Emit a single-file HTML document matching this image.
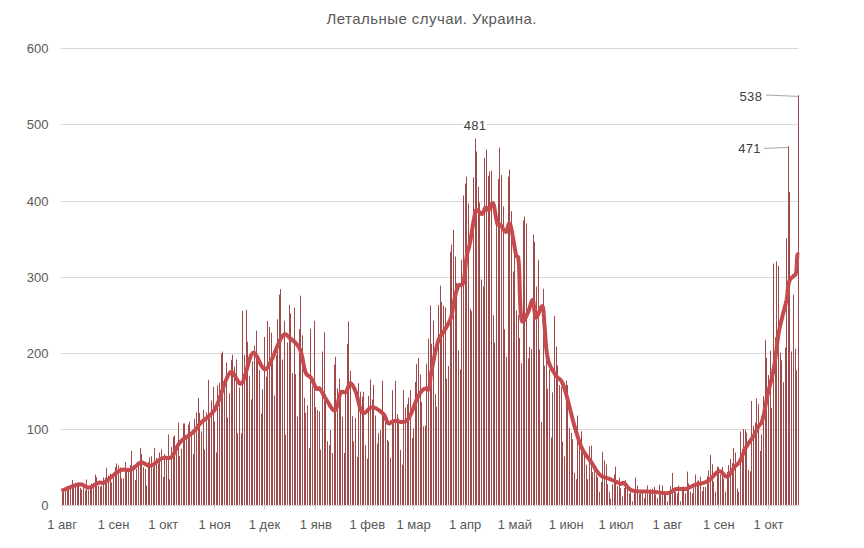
<!DOCTYPE html>
<html><head><meta charset="utf-8"><style>
html,body{margin:0;padding:0;background:#fff;}
body{width:864px;height:548px;overflow:hidden;}
svg{display:block;font-family:"Liberation Sans",sans-serif;}
</style></head><body>
<svg width="864" height="548" viewBox="0 0 864 548">
<rect width="864" height="548" fill="#fff"/>
<text x="326.5" y="23.8" font-size="15" letter-spacing="0.45" fill="#595959">Летальные случаи. Украина.</text>
<g stroke="#d9d9d9" stroke-width="1"><line x1="60.5" x2="798.6" y1="505.5" y2="505.5"/><line x1="60.5" x2="798.6" y1="429.5" y2="429.5"/><line x1="60.5" x2="798.6" y1="353.5" y2="353.5"/><line x1="60.5" x2="798.6" y1="277.5" y2="277.5"/><line x1="60.5" x2="798.6" y1="201.5" y2="201.5"/><line x1="60.5" x2="798.6" y1="124.5" y2="124.5"/><line x1="60.5" x2="798.6" y1="48.5" y2="48.5"/></g>
<g stroke="#d9d9d9" stroke-width="1"><line x1="62.5" x2="62.5" y1="506" y2="510"/><line x1="113.5" x2="113.5" y1="506" y2="510"/><line x1="163.5" x2="163.5" y1="506" y2="510"/><line x1="214.5" x2="214.5" y1="506" y2="510"/><line x1="264.5" x2="264.5" y1="506" y2="510"/><line x1="315.5" x2="315.5" y1="506" y2="510"/><line x1="367.5" x2="367.5" y1="506" y2="510"/><line x1="413.5" x2="413.5" y1="506" y2="510"/><line x1="465.5" x2="465.5" y1="506" y2="510"/><line x1="514.5" x2="514.5" y1="506" y2="510"/><line x1="566.5" x2="566.5" y1="506" y2="510"/><line x1="615.5" x2="615.5" y1="506" y2="510"/><line x1="667.5" x2="667.5" y1="506" y2="510"/><line x1="718.5" x2="718.5" y1="506" y2="510"/><line x1="768.5" x2="768.5" y1="506" y2="510"/></g>
<g font-size="13" fill="#595959" text-anchor="end"><text x="48.5" y="510.00">0</text><text x="48.5" y="434.00">100</text><text x="48.5" y="358.00">200</text><text x="48.5" y="282.00">300</text><text x="48.5" y="206.00">400</text><text x="48.5" y="129.00">500</text><text x="48.5" y="53.00">600</text></g>
<g font-size="13" fill="#595959" text-anchor="middle"><text x="62.10" y="528.8">1 авг</text><text x="113.51" y="528.8">1 сен</text><text x="163.26" y="528.8">1 окт</text><text x="214.66" y="528.8">1 ноя</text><text x="264.41" y="528.8">1 дек</text><text x="315.82" y="528.8">1 янв</text><text x="367.23" y="528.8">1 фев</text><text x="413.66" y="528.8">1 мар</text><text x="465.07" y="528.8">1 апр</text><text x="514.82" y="528.8">1 май</text><text x="566.22" y="528.8">1 июн</text><text x="615.97" y="528.8">1 июл</text><text x="667.38" y="528.8">1 авг</text><text x="718.79" y="528.8">1 сен</text><text x="768.54" y="528.8">1 окт</text></g>
<g fill="#a04a4c"><rect x="62" y="490.18" width="1" height="14.82"/><rect x="63" y="488.06" width="1" height="16.94"/><rect x="65" y="488.06" width="1" height="16.94"/><rect x="67" y="485.96" width="1" height="19.04"/><rect x="68" y="486.98" width="1" height="18.02"/><rect x="70" y="485.59" width="1" height="19.41"/><rect x="72" y="480.02" width="1" height="24.98"/><rect x="73" y="485.72" width="1" height="19.28"/><rect x="75" y="482.63" width="1" height="22.37"/><rect x="77" y="484.81" width="1" height="20.19"/><rect x="78" y="485.67" width="1" height="19.33"/><rect x="80" y="487.80" width="1" height="17.20"/><rect x="81" y="489.63" width="1" height="15.37"/><rect x="83" y="484.47" width="1" height="20.53"/><rect x="85" y="490.47" width="1" height="14.53"/><rect x="86" y="479.48" width="1" height="25.52"/><rect x="88" y="490.28" width="1" height="14.72"/><rect x="90" y="486.07" width="1" height="18.93"/><rect x="91" y="483.41" width="1" height="21.59"/><rect x="93" y="482.85" width="1" height="22.15"/><rect x="95" y="474.53" width="1" height="30.47"/><rect x="96" y="477.12" width="1" height="27.88"/><rect x="98" y="485.71" width="1" height="19.29"/><rect x="100" y="486.55" width="1" height="18.45"/><rect x="101" y="485.50" width="1" height="19.50"/><rect x="103" y="477.48" width="1" height="27.52"/><rect x="105" y="477.65" width="1" height="27.35"/><rect x="106" y="467.68" width="1" height="37.32"/><rect x="108" y="475.56" width="1" height="29.44"/><rect x="110" y="473.77" width="1" height="31.23"/><rect x="111" y="482.38" width="1" height="22.62"/><rect x="113" y="473.84" width="1" height="31.16"/><rect x="115" y="466.92" width="1" height="38.09"/><rect x="116" y="463.49" width="1" height="41.51"/><rect x="118" y="465.30" width="1" height="39.70"/><rect x="120" y="467.45" width="1" height="37.55"/><rect x="121" y="478.38" width="1" height="26.62"/><rect x="123" y="478.42" width="1" height="26.58"/><rect x="125" y="461.96" width="1" height="43.04"/><rect x="126" y="470.43" width="1" height="34.57"/><rect x="128" y="472.17" width="1" height="32.83"/><rect x="130" y="465.09" width="1" height="39.91"/><rect x="131" y="451.00" width="1" height="54.00"/><rect x="133" y="465.09" width="1" height="39.91"/><rect x="135" y="480.02" width="1" height="24.98"/><rect x="136" y="469.05" width="1" height="35.95"/><rect x="138" y="461.92" width="1" height="43.08"/><rect x="140" y="447.87" width="1" height="57.13"/><rect x="141" y="454.12" width="1" height="50.88"/><rect x="143" y="467.24" width="1" height="37.76"/><rect x="145" y="469.05" width="1" height="35.95"/><rect x="146" y="485.50" width="1" height="19.50"/><rect x="148" y="462.15" width="1" height="42.85"/><rect x="149" y="457.24" width="1" height="47.76"/><rect x="151" y="456.20" width="1" height="48.80"/><rect x="153" y="467.45" width="1" height="37.55"/><rect x="154" y="447.87" width="1" height="57.13"/><rect x="156" y="457.95" width="1" height="47.05"/><rect x="158" y="463.56" width="1" height="41.44"/><rect x="159" y="452.52" width="1" height="52.48"/><rect x="161" y="449.36" width="1" height="55.64"/><rect x="163" y="476.89" width="1" height="28.11"/><rect x="164" y="454.12" width="1" height="50.88"/><rect x="166" y="455.77" width="1" height="49.23"/><rect x="168" y="434.47" width="1" height="70.53"/><rect x="169" y="479.25" width="1" height="25.75"/><rect x="171" y="447.16" width="1" height="57.84"/><rect x="173" y="436.83" width="1" height="68.17"/><rect x="174" y="435.30" width="1" height="69.70"/><rect x="176" y="447.90" width="1" height="57.10"/><rect x="178" y="422.74" width="1" height="82.26"/><rect x="179" y="456.13" width="1" height="48.87"/><rect x="181" y="448.63" width="1" height="56.37"/><rect x="183" y="423.50" width="1" height="81.50"/><rect x="184" y="423.50" width="1" height="81.50"/><rect x="186" y="437.58" width="1" height="67.42"/><rect x="188" y="424.64" width="1" height="80.36"/><rect x="189" y="421.52" width="1" height="83.48"/><rect x="191" y="433.61" width="1" height="71.39"/><rect x="193" y="454.12" width="1" height="50.88"/><rect x="194" y="418.78" width="1" height="86.22"/><rect x="196" y="412.21" width="1" height="92.79"/><rect x="198" y="397.83" width="1" height="107.17"/><rect x="199" y="412.83" width="1" height="92.17"/><rect x="201" y="431.34" width="1" height="73.66"/><rect x="203" y="409.94" width="1" height="95.06"/><rect x="204" y="449.40" width="1" height="55.60"/><rect x="206" y="412.41" width="1" height="92.59"/><rect x="208" y="379.78" width="1" height="125.22"/><rect x="209" y="418.24" width="1" height="86.76"/><rect x="211" y="400.47" width="1" height="104.53"/><rect x="213" y="386.94" width="1" height="118.06"/><rect x="214" y="421.44" width="1" height="83.56"/><rect x="216" y="452.44" width="1" height="52.56"/><rect x="217" y="385.41" width="1" height="119.59"/><rect x="219" y="382.83" width="1" height="122.17"/><rect x="221" y="353.42" width="1" height="151.58"/><rect x="222" y="351.59" width="1" height="153.41"/><rect x="224" y="381.92" width="1" height="123.08"/><rect x="226" y="362.56" width="1" height="142.44"/><rect x="227" y="417.48" width="1" height="87.52"/><rect x="229" y="393.26" width="1" height="111.74"/><rect x="231" y="359.74" width="1" height="145.26"/><rect x="232" y="354.72" width="1" height="150.28"/><rect x="234" y="366.75" width="1" height="138.25"/><rect x="236" y="359.44" width="1" height="145.56"/><rect x="237" y="433.17" width="1" height="71.83"/><rect x="239" y="387.56" width="1" height="117.44"/><rect x="241" y="433.17" width="1" height="71.83"/><rect x="242" y="310.77" width="1" height="194.23"/><rect x="244" y="355.08" width="1" height="149.92"/><rect x="246" y="309.85" width="1" height="195.15"/><rect x="247" y="341.69" width="1" height="163.31"/><rect x="249" y="375.86" width="1" height="129.14"/><rect x="251" y="399.43" width="1" height="105.57"/><rect x="252" y="361.34" width="1" height="143.66"/><rect x="254" y="345.71" width="1" height="159.29"/><rect x="256" y="330.72" width="1" height="174.28"/><rect x="257" y="356.79" width="1" height="148.21"/><rect x="259" y="369.93" width="1" height="135.07"/><rect x="261" y="413.60" width="1" height="91.40"/><rect x="262" y="389.27" width="1" height="115.73"/><rect x="264" y="336.97" width="1" height="168.03"/><rect x="266" y="376.65" width="1" height="128.35"/><rect x="267" y="320.82" width="1" height="184.18"/><rect x="269" y="326.76" width="1" height="178.24"/><rect x="271" y="332.78" width="1" height="172.22"/><rect x="272" y="361.05" width="1" height="143.95"/><rect x="274" y="395.54" width="1" height="109.46"/><rect x="276" y="355.02" width="1" height="149.98"/><rect x="277" y="319.21" width="1" height="185.79"/><rect x="279" y="294.62" width="1" height="210.38"/><rect x="280" y="289.13" width="1" height="215.87"/><rect x="282" y="359.52" width="1" height="145.48"/><rect x="284" y="320.82" width="1" height="184.18"/><rect x="285" y="434.77" width="1" height="70.23"/><rect x="287" y="342.51" width="1" height="162.49"/><rect x="289" y="304.83" width="1" height="200.17"/><rect x="290" y="313.43" width="1" height="191.57"/><rect x="292" y="373.11" width="1" height="131.89"/><rect x="294" y="307.64" width="1" height="197.36"/><rect x="295" y="374.16" width="1" height="130.84"/><rect x="297" y="416.64" width="1" height="88.36"/><rect x="299" y="329.12" width="1" height="175.88"/><rect x="300" y="295.68" width="1" height="209.32"/><rect x="302" y="335.45" width="1" height="169.55"/><rect x="304" y="397.74" width="1" height="107.26"/><rect x="305" y="412.83" width="1" height="92.17"/><rect x="307" y="405.39" width="1" height="99.61"/><rect x="309" y="448.10" width="1" height="56.90"/><rect x="310" y="328.67" width="1" height="176.33"/><rect x="312" y="386.30" width="1" height="118.70"/><rect x="314" y="320.82" width="1" height="184.18"/><rect x="315" y="407.11" width="1" height="97.89"/><rect x="317" y="409.98" width="1" height="95.02"/><rect x="319" y="411.31" width="1" height="93.69"/><rect x="320" y="449.70" width="1" height="55.30"/><rect x="322" y="351.59" width="1" height="153.41"/><rect x="324" y="332.25" width="1" height="172.75"/><rect x="325" y="394.02" width="1" height="110.98"/><rect x="327" y="441.25" width="1" height="63.75"/><rect x="329" y="445.13" width="1" height="59.87"/><rect x="330" y="430.20" width="1" height="74.80"/><rect x="332" y="452.98" width="1" height="52.02"/><rect x="334" y="364.62" width="1" height="140.38"/><rect x="335" y="356.77" width="1" height="148.23"/><rect x="337" y="388.26" width="1" height="116.74"/><rect x="339" y="378.79" width="1" height="126.21"/><rect x="340" y="390.08" width="1" height="114.92"/><rect x="342" y="416.87" width="1" height="88.13"/><rect x="344" y="452.98" width="1" height="52.02"/><rect x="345" y="390.99" width="1" height="114.01"/><rect x="347" y="343.75" width="1" height="161.25"/><rect x="348" y="321.43" width="1" height="183.57"/><rect x="350" y="370.86" width="1" height="134.14"/><rect x="352" y="416.11" width="1" height="88.89"/><rect x="353" y="441.25" width="1" height="63.75"/><rect x="355" y="417.82" width="1" height="87.18"/><rect x="357" y="456.94" width="1" height="48.06"/><rect x="358" y="383.19" width="1" height="121.81"/><rect x="360" y="391.74" width="1" height="113.26"/><rect x="362" y="396.66" width="1" height="108.34"/><rect x="363" y="391.74" width="1" height="113.26"/><rect x="365" y="445.13" width="1" height="59.87"/><rect x="367" y="458.54" width="1" height="46.46"/><rect x="368" y="395.90" width="1" height="109.10"/><rect x="370" y="379.55" width="1" height="125.45"/><rect x="372" y="399.58" width="1" height="105.42"/><rect x="373" y="385.03" width="1" height="119.97"/><rect x="375" y="415.54" width="1" height="89.46"/><rect x="377" y="443.61" width="1" height="61.39"/><rect x="378" y="433.09" width="1" height="71.91"/><rect x="380" y="430.02" width="1" height="74.98"/><rect x="382" y="380.84" width="1" height="124.16"/><rect x="383" y="415.98" width="1" height="89.02"/><rect x="385" y="413.81" width="1" height="91.19"/><rect x="387" y="439.79" width="1" height="65.21"/><rect x="388" y="441.19" width="1" height="63.81"/><rect x="390" y="457.70" width="1" height="47.30"/><rect x="392" y="390.21" width="1" height="114.79"/><rect x="393" y="419.60" width="1" height="85.40"/><rect x="395" y="380.84" width="1" height="124.16"/><rect x="397" y="414.51" width="1" height="90.49"/><rect x="398" y="418.31" width="1" height="86.69"/><rect x="400" y="449.85" width="1" height="55.15"/><rect x="402" y="464.78" width="1" height="40.22"/><rect x="403" y="390.21" width="1" height="114.79"/><rect x="405" y="407.43" width="1" height="97.57"/><rect x="407" y="404.30" width="1" height="100.70"/><rect x="408" y="397.55" width="1" height="107.45"/><rect x="410" y="390.21" width="1" height="114.79"/><rect x="412" y="438.05" width="1" height="66.95"/><rect x="413" y="428.52" width="1" height="76.48"/><rect x="415" y="381.91" width="1" height="123.09"/><rect x="416" y="363.86" width="1" height="141.14"/><rect x="418" y="357.92" width="1" height="147.08"/><rect x="420" y="374.52" width="1" height="130.48"/><rect x="421" y="402.08" width="1" height="102.92"/><rect x="423" y="426.32" width="1" height="78.68"/><rect x="425" y="425.55" width="1" height="79.45"/><rect x="426" y="363.76" width="1" height="141.24"/><rect x="428" y="338.72" width="1" height="166.28"/><rect x="430" y="305.43" width="1" height="199.57"/><rect x="431" y="343.76" width="1" height="161.24"/><rect x="433" y="320.67" width="1" height="184.33"/><rect x="435" y="394.10" width="1" height="110.90"/><rect x="436" y="406.74" width="1" height="98.26"/><rect x="438" y="304.98" width="1" height="200.02"/><rect x="440" y="285.63" width="1" height="219.37"/><rect x="441" y="301.85" width="1" height="203.15"/><rect x="443" y="305.74" width="1" height="199.26"/><rect x="445" y="307.34" width="1" height="197.66"/><rect x="446" y="378.71" width="1" height="126.29"/><rect x="448" y="365.92" width="1" height="139.08"/><rect x="450" y="251.81" width="1" height="253.19"/><rect x="451" y="244.80" width="1" height="260.20"/><rect x="453" y="229.87" width="1" height="275.13"/><rect x="455" y="256.53" width="1" height="248.47"/><rect x="456" y="282.90" width="1" height="222.10"/><rect x="458" y="350.45" width="1" height="154.55"/><rect x="460" y="369.34" width="1" height="135.66"/><rect x="461" y="259.62" width="1" height="245.38"/><rect x="463" y="195.45" width="1" height="309.55"/><rect x="465" y="183.64" width="1" height="321.36"/><rect x="466" y="176.55" width="1" height="328.45"/><rect x="468" y="203.29" width="1" height="301.71"/><rect x="470" y="308.86" width="1" height="196.14"/><rect x="471" y="311.22" width="1" height="193.78"/><rect x="473" y="177.39" width="1" height="327.61"/><rect x="475" y="138.62" width="1" height="366.38"/><rect x="476" y="151.50" width="1" height="353.50"/><rect x="478" y="186.76" width="1" height="318.24"/><rect x="479" y="202.45" width="1" height="302.55"/><rect x="481" y="279.50" width="1" height="225.50"/><rect x="483" y="286.39" width="1" height="218.61"/><rect x="484" y="157.74" width="1" height="347.26"/><rect x="486" y="149.59" width="1" height="355.41"/><rect x="488" y="175.79" width="1" height="329.21"/><rect x="489" y="171.53" width="1" height="333.47"/><rect x="491" y="170.61" width="1" height="334.39"/><rect x="493" y="315.18" width="1" height="189.82"/><rect x="494" y="342.61" width="1" height="162.39"/><rect x="496" y="222.25" width="1" height="282.75"/><rect x="498" y="178.99" width="1" height="326.01"/><rect x="499" y="147.53" width="1" height="357.47"/><rect x="501" y="175.03" width="1" height="329.97"/><rect x="503" y="206.41" width="1" height="298.59"/><rect x="504" y="329.28" width="1" height="175.72"/><rect x="506" y="356.77" width="1" height="148.23"/><rect x="508" y="176.55" width="1" height="328.45"/><rect x="509" y="169.55" width="1" height="335.45"/><rect x="511" y="211.14" width="1" height="293.86"/><rect x="513" y="271.46" width="1" height="233.54"/><rect x="514" y="237.72" width="1" height="267.28"/><rect x="516" y="310.68" width="1" height="194.32"/><rect x="518" y="315.28" width="1" height="189.72"/><rect x="519" y="337.99" width="1" height="167.01"/><rect x="521" y="363.21" width="1" height="141.79"/><rect x="523" y="220.43" width="1" height="284.57"/><rect x="524" y="216.54" width="1" height="288.46"/><rect x="526" y="223.55" width="1" height="281.45"/><rect x="528" y="358.30" width="1" height="146.70"/><rect x="529" y="347.00" width="1" height="158.00"/><rect x="531" y="349.00" width="1" height="156.00"/><rect x="533" y="234.60" width="1" height="270.40"/><rect x="534" y="241.68" width="1" height="263.32"/><rect x="536" y="286.39" width="1" height="218.61"/><rect x="538" y="259.73" width="1" height="245.27"/><rect x="539" y="349.38" width="1" height="155.62"/><rect x="541" y="421.97" width="1" height="83.03"/><rect x="543" y="288.75" width="1" height="216.25"/><rect x="544" y="365.58" width="1" height="139.42"/><rect x="546" y="359.90" width="1" height="145.10"/><rect x="547" y="388.73" width="1" height="116.27"/><rect x="549" y="369.34" width="1" height="135.66"/><rect x="551" y="437.59" width="1" height="67.41"/><rect x="552" y="392.32" width="1" height="112.68"/><rect x="554" y="315.95" width="1" height="189.05"/><rect x="556" y="346.57" width="1" height="158.43"/><rect x="557" y="365.38" width="1" height="139.62"/><rect x="559" y="385.03" width="1" height="119.97"/><rect x="561" y="386.56" width="1" height="118.44"/><rect x="562" y="441.55" width="1" height="63.45"/><rect x="564" y="456.40" width="1" height="48.60"/><rect x="566" y="380.61" width="1" height="124.39"/><rect x="567" y="385.03" width="1" height="119.97"/><rect x="569" y="428.14" width="1" height="76.86"/><rect x="571" y="432.87" width="1" height="72.13"/><rect x="572" y="439.19" width="1" height="65.81"/><rect x="574" y="472.93" width="1" height="32.07"/><rect x="576" y="479.18" width="1" height="25.82"/><rect x="577" y="415.65" width="1" height="89.35"/><rect x="579" y="445.44" width="1" height="59.56"/><rect x="581" y="431.34" width="1" height="73.66"/><rect x="582" y="450.92" width="1" height="54.08"/><rect x="584" y="453.28" width="1" height="51.72"/><rect x="586" y="464.72" width="1" height="40.28"/><rect x="587" y="479.18" width="1" height="25.82"/><rect x="589" y="446.20" width="1" height="58.80"/><rect x="591" y="445.44" width="1" height="59.56"/><rect x="592" y="472.22" width="1" height="32.78"/><rect x="594" y="468.21" width="1" height="36.79"/><rect x="596" y="474.46" width="1" height="30.54"/><rect x="597" y="477.16" width="1" height="27.84"/><rect x="599" y="491.75" width="1" height="13.25"/><rect x="601" y="481.87" width="1" height="23.13"/><rect x="602" y="451.68" width="1" height="53.32"/><rect x="604" y="460.36" width="1" height="44.64"/><rect x="606" y="464.33" width="1" height="40.67"/><rect x="607" y="484.10" width="1" height="20.90"/><rect x="609" y="491.75" width="1" height="13.25"/><rect x="610" y="498.83" width="1" height="6.17"/><rect x="612" y="484.19" width="1" height="20.81"/><rect x="614" y="474.46" width="1" height="30.54"/><rect x="615" y="466.61" width="1" height="38.39"/><rect x="617" y="486.12" width="1" height="18.88"/><rect x="619" y="477.58" width="1" height="27.42"/><rect x="620" y="488.27" width="1" height="16.73"/><rect x="622" y="496.47" width="1" height="8.53"/><rect x="624" y="487.98" width="1" height="17.02"/><rect x="625" y="479.94" width="1" height="25.06"/><rect x="627" y="487.02" width="1" height="17.98"/><rect x="629" y="493.35" width="1" height="11.65"/><rect x="630" y="492.16" width="1" height="12.84"/><rect x="632" y="501.19" width="1" height="3.81"/><rect x="634" y="492.65" width="1" height="12.35"/><rect x="635" y="477.58" width="1" height="27.42"/><rect x="637" y="485.50" width="1" height="19.50"/><rect x="639" y="494.16" width="1" height="10.84"/><rect x="640" y="490.22" width="1" height="14.78"/><rect x="642" y="492.28" width="1" height="12.72"/><rect x="644" y="497.99" width="1" height="7.01"/><rect x="645" y="493.52" width="1" height="11.48"/><rect x="647" y="485.50" width="1" height="19.50"/><rect x="649" y="494.00" width="1" height="11.00"/><rect x="650" y="489.39" width="1" height="15.61"/><rect x="652" y="488.62" width="1" height="16.38"/><rect x="654" y="487.02" width="1" height="17.98"/><rect x="655" y="494.51" width="1" height="10.49"/><rect x="657" y="497.99" width="1" height="7.01"/><rect x="659" y="484.66" width="1" height="20.34"/><rect x="660" y="495.10" width="1" height="9.90"/><rect x="662" y="485.50" width="1" height="19.50"/><rect x="664" y="494.44" width="1" height="10.56"/><rect x="665" y="494.87" width="1" height="10.13"/><rect x="667" y="501.19" width="1" height="3.81"/><rect x="669" y="491.48" width="1" height="13.52"/><rect x="670" y="486.26" width="1" height="18.74"/><rect x="672" y="472.93" width="1" height="32.07"/><rect x="674" y="487.60" width="1" height="17.40"/><rect x="675" y="491.75" width="1" height="13.25"/><rect x="677" y="493.35" width="1" height="11.65"/><rect x="678" y="485.47" width="1" height="19.53"/><rect x="680" y="501.19" width="1" height="3.81"/><rect x="682" y="487.02" width="1" height="17.98"/><rect x="683" y="486.34" width="1" height="18.66"/><rect x="685" y="493.35" width="1" height="11.65"/><rect x="687" y="471.64" width="1" height="33.36"/><rect x="688" y="483.39" width="1" height="21.61"/><rect x="690" y="491.75" width="1" height="13.25"/><rect x="692" y="493.35" width="1" height="11.65"/><rect x="693" y="483.46" width="1" height="21.54"/><rect x="695" y="474.46" width="1" height="30.54"/><rect x="697" y="480.78" width="1" height="24.22"/><rect x="698" y="480.38" width="1" height="24.62"/><rect x="700" y="476.82" width="1" height="28.18"/><rect x="702" y="490.98" width="1" height="14.02"/><rect x="703" y="486.88" width="1" height="18.12"/><rect x="705" y="487.02" width="1" height="17.98"/><rect x="707" y="476.35" width="1" height="28.65"/><rect x="708" y="470.57" width="1" height="34.43"/><rect x="710" y="454.88" width="1" height="50.12"/><rect x="712" y="464.25" width="1" height="40.75"/><rect x="713" y="481.40" width="1" height="23.60"/><rect x="715" y="491.75" width="1" height="13.25"/><rect x="717" y="466.61" width="1" height="38.39"/><rect x="718" y="467.22" width="1" height="37.78"/><rect x="720" y="474.46" width="1" height="30.54"/><rect x="722" y="466.91" width="1" height="38.09"/><rect x="723" y="478.42" width="1" height="26.58"/><rect x="725" y="491.75" width="1" height="13.25"/><rect x="727" y="471.89" width="1" height="33.11"/><rect x="728" y="465.09" width="1" height="39.91"/><rect x="730" y="458.76" width="1" height="46.24"/><rect x="732" y="463.23" width="1" height="41.77"/><rect x="733" y="447.80" width="1" height="57.20"/><rect x="735" y="452.52" width="1" height="52.48"/><rect x="737" y="488.62" width="1" height="16.38"/><rect x="738" y="491.75" width="1" height="13.25"/><rect x="740" y="431.34" width="1" height="73.66"/><rect x="742" y="448.91" width="1" height="56.09"/><rect x="743" y="428.98" width="1" height="76.02"/><rect x="745" y="429.74" width="1" height="75.26"/><rect x="746" y="432.47" width="1" height="72.53"/><rect x="748" y="469.81" width="1" height="35.19"/><rect x="750" y="471.33" width="1" height="33.67"/><rect x="751" y="400.95" width="1" height="104.05"/><rect x="753" y="425.78" width="1" height="79.22"/><rect x="755" y="422.58" width="1" height="82.42"/><rect x="756" y="398.59" width="1" height="106.41"/><rect x="758" y="404.07" width="1" height="100.93"/><rect x="760" y="450.92" width="1" height="54.08"/><rect x="761" y="434.47" width="1" height="70.53"/><rect x="763" y="396.23" width="1" height="108.77"/><rect x="765" y="339.71" width="1" height="165.29"/><rect x="766" y="357.84" width="1" height="147.16"/><rect x="768" y="375.05" width="1" height="129.95"/><rect x="770" y="350.76" width="1" height="154.24"/><rect x="771" y="408.00" width="1" height="97.00"/><rect x="773" y="263.54" width="1" height="241.46"/><rect x="775" y="337.24" width="1" height="167.76"/><rect x="776" y="261.26" width="1" height="243.74"/><rect x="778" y="265.83" width="1" height="239.17"/><rect x="780" y="352.66" width="1" height="152.34"/><rect x="781" y="360.28" width="1" height="144.72"/><rect x="783" y="382.14" width="1" height="122.86"/><rect x="785" y="347.56" width="1" height="157.44"/><rect x="786" y="238.40" width="1" height="266.60"/><rect x="788" y="146.24" width="1" height="358.76"/><rect x="789" y="191.94" width="1" height="313.06"/><rect x="791" y="351.52" width="1" height="153.48"/><rect x="793" y="294.77" width="1" height="210.23"/><rect x="795" y="348.85" width="1" height="156.15"/><rect x="796" y="370.33" width="1" height="134.67"/><rect x="798" y="95.21" width="1" height="409.79"/></g>
<polyline points="61.4,490.8 63.4,490.0 66.3,488.8 69.7,487.4 73.2,486.0 76.5,484.9 79.2,484.3 81.3,484.4 83.1,485.0 84.6,485.9 86.0,486.8 87.5,487.4 89.0,487.6 90.7,487.2 92.4,486.4 94.1,485.4 95.7,484.3 97.3,483.4 98.7,482.7 99.9,482.5 100.8,482.6 101.6,482.8 102.6,482.9 103.7,482.7 105.2,482.0 107.2,480.6 109.6,478.6 112.2,476.3 114.9,473.9 117.5,471.9 119.8,470.5 121.9,469.8 123.9,469.6 125.8,469.8 127.6,470.0 129.4,470.1 131.2,469.7 132.9,468.8 134.6,467.4 136.2,465.9 137.7,464.4 139.3,463.2 140.9,462.5 142.5,462.6 144.1,463.3 145.6,464.2 147.2,465.1 148.9,465.8 150.6,465.8 152.4,465.1 154.3,463.9 156.3,462.3 158.3,460.7 160.2,459.3 162.0,458.3 163.7,457.8 165.4,457.8 167.1,457.9 168.7,458.0 170.3,457.7 171.8,456.8 173.2,455.0 174.4,452.7 175.7,450.0 176.9,447.2 178.3,444.6 179.9,442.3 181.8,440.4 184.1,438.6 186.4,437.0 188.7,435.5 191.0,434.0 192.9,432.4 194.5,430.7 195.9,429.1 197.2,427.4 198.4,425.8 199.6,424.2 201.0,422.6 202.6,421.2 204.2,419.9 205.9,418.6 207.6,417.3 209.2,415.9 210.7,414.5 211.9,413.2 212.9,412.2 213.7,411.1 214.7,409.7 215.8,407.7 217.2,404.7 219.0,400.1 221.1,394.0 223.4,387.2 225.7,380.7 228.1,375.4 230.2,372.3 232.2,372.1 234.1,374.4 236.0,377.9 237.9,381.3 239.7,383.7 241.6,383.6 243.5,380.4 245.3,374.7 247.2,367.9 249.0,361.1 250.9,355.7 252.9,352.8 254.9,353.3 257.0,356.6 259.1,361.1 261.3,365.6 263.5,368.7 265.9,369.2 268.5,366.2 271.3,360.6 274.3,353.8 277.1,346.7 279.7,340.6 282.0,336.6 283.8,334.7 285.2,334.2 286.4,334.7 287.5,335.7 288.6,337.0 290.0,338.2 291.6,339.4 293.4,340.8 295.2,342.5 296.9,344.4 298.6,346.7 300.0,349.4 301.2,352.7 302.2,356.7 303.0,361.1 303.8,365.4 304.6,369.3 305.5,372.2 306.4,374.1 307.3,375.1 308.2,375.7 309.1,376.1 310.0,376.7 310.9,377.7 311.8,379.3 312.8,381.3 313.8,383.5 314.7,385.6 315.6,387.3 316.4,388.6 317.0,389.1 317.5,389.0 318.0,388.6 318.4,388.2 319.0,388.1 319.7,388.6 320.6,389.8 321.6,391.4 322.7,393.4 323.8,395.5 325.0,397.7 326.3,399.6 327.7,401.8 329.2,404.3 330.7,406.9 332.3,409.0 333.7,410.3 335.0,410.5 336.1,409.0 337.1,406.2 337.9,402.5 338.8,398.7 339.6,395.3 340.5,393.0 341.4,392.0 342.4,391.7 343.3,392.0 344.3,392.3 345.2,392.4 346.0,392.0 346.8,390.8 347.5,389.0 348.1,387.0 348.8,385.1 349.5,383.7 350.3,383.2 351.1,383.5 352.0,384.4 352.9,385.7 353.8,387.5 354.8,389.6 355.8,392.0 356.8,395.1 357.8,399.0 358.8,403.3 359.9,407.3 361.1,410.7 362.4,412.7 363.8,413.2 365.4,412.4 367.0,410.9 368.7,409.1 370.5,407.8 372.2,407.2 374.0,407.6 376.0,408.4 378.0,409.6 379.9,410.9 381.7,412.4 383.2,413.8 384.4,415.3 385.3,417.2 386.0,419.1 386.7,420.8 387.4,422.3 388.2,423.2 389.0,423.5 389.8,423.3 390.6,422.7 391.6,422.0 392.7,421.4 394.1,421.0 395.9,421.0 398.0,421.4 400.3,421.9 402.7,422.1 405.1,421.6 407.2,420.2 409.2,417.4 411.2,413.3 413.1,408.7 414.9,403.9 416.7,399.6 418.2,396.3 419.6,394.0 420.8,392.2 421.9,390.9 422.9,389.9 423.8,389.2 424.7,388.6 425.6,388.4 426.4,388.7 427.1,389.3 427.8,389.8 428.4,389.8 429.0,389.0 429.4,387.3 429.8,385.2 430.0,382.5 430.3,379.4 430.7,376.0 431.3,372.2 432.2,367.7 433.2,362.3 434.3,356.6 435.5,351.0 436.8,345.9 437.9,341.7 439.0,338.8 440.1,336.7 441.1,335.1 442.2,333.8 443.3,332.4 444.4,330.6 445.5,328.6 446.7,326.6 447.9,324.5 449.0,322.3 450.1,320.0 451.0,317.5 451.7,314.8 452.3,311.8 452.8,308.7 453.3,305.6 453.7,302.6 454.3,299.8 454.9,297.2 455.6,294.5 456.2,291.9 456.9,289.6 457.7,287.5 458.4,285.8 459.2,284.9 460.0,284.8 460.9,285.0 461.8,285.0 462.6,284.4 463.3,282.6 463.9,279.5 464.5,275.2 465.1,270.3 465.6,265.2 466.1,260.5 466.6,256.7 467.1,253.9 467.6,252.0 468.1,250.4 468.6,248.8 469.2,246.6 469.8,243.6 470.6,239.3 471.5,233.8 472.4,227.9 473.4,222.1 474.3,217.0 475.0,213.4 475.5,211.2 475.9,210.1 476.2,209.8 476.5,209.9 476.9,210.2 477.4,210.4 478.1,210.8 478.8,211.5 479.7,212.4 480.5,213.3 481.4,213.9 482.1,214.0 482.8,213.4 483.4,212.3 483.9,210.8 484.5,209.4 485.0,208.2 485.6,207.5 486.2,207.5 486.7,208.0 487.3,208.7 487.9,209.4 488.5,209.9 489.1,209.9 489.7,209.0 490.4,207.4 491.1,205.6 491.8,203.9 492.5,203.1 493.2,203.4 493.9,205.4 494.6,208.8 495.2,212.8 495.9,217.0 496.6,220.7 497.2,223.3 497.8,224.6 498.3,225.0 498.9,225.0 499.4,224.7 500.0,224.7 500.7,225.0 501.5,226.1 502.4,227.6 503.4,229.2 504.3,230.6 505.2,231.7 506.0,232.0 506.6,231.4 507.2,230.0 507.6,228.1 508.1,226.2 508.5,224.7 508.9,223.9 509.3,223.7 509.7,223.7 510.0,224.1 510.4,225.0 510.8,226.4 511.3,228.5 512.0,231.8 512.7,236.1 513.6,241.0 514.4,246.0 515.2,250.5 515.9,254.1 516.5,256.0 517.0,256.5 517.5,256.6 517.9,257.1 518.4,259.0 518.8,263.0 519.2,270.3 519.5,280.4 519.8,291.9 520.2,303.1 520.7,312.6 521.3,318.9 522.2,321.5 523.2,321.7 524.4,320.1 525.6,317.6 526.8,314.9 527.8,312.8 528.7,310.7 529.6,307.8 530.5,304.8 531.3,302.1 532.0,300.3 532.7,299.8 533.3,301.4 533.8,304.6 534.2,308.7 534.7,312.8 535.2,316.0 535.9,317.7 536.8,317.1 538.0,314.8 539.2,311.8 540.4,308.8 541.5,306.6 542.4,306.2 543.0,307.6 543.4,310.2 543.7,313.6 544.0,317.7 544.2,322.1 544.6,326.5 545.0,331.4 545.4,337.0 545.8,342.9 546.3,348.8 547.0,354.2 547.8,358.8 548.8,362.5 550.1,365.7 551.5,368.4 552.9,370.8 554.3,373.0 555.7,375.2 557.0,377.0 558.2,378.0 559.4,378.9 560.7,380.1 562.0,382.1 563.5,385.5 565.2,390.7 567.1,397.5 569.0,405.0 571.0,412.8 572.8,420.0 574.5,426.1 575.9,430.9 577.2,435.1 578.4,438.9 579.5,442.2 580.7,445.3 582.0,448.4 583.5,451.2 585.0,453.7 586.6,456.0 588.3,458.2 589.9,460.3 591.4,462.5 592.9,464.7 594.3,467.0 595.7,469.3 597.1,471.4 598.5,473.3 600.0,474.9 601.5,476.0 603.1,476.9 604.7,477.4 606.3,477.9 607.9,478.3 609.3,478.8 610.7,479.4 612.0,480.0 613.2,480.5 614.4,481.0 615.5,481.5 616.5,481.9 617.4,482.3 618.2,482.7 618.9,483.1 619.6,483.5 620.2,483.7 620.8,483.9 621.4,483.8 621.8,483.5 622.3,483.2 622.8,482.9 623.3,482.8 624.0,483.0 624.8,483.7 625.8,484.8 626.8,486.1 627.8,487.4 628.9,488.5 630.0,489.4 631.1,490.0 632.2,490.5 633.4,490.8 634.6,491.0 635.8,491.2 637.0,491.3 638.2,491.5 639.4,491.5 640.6,491.5 641.8,491.5 643.2,491.4 644.8,491.5 646.6,491.6 648.7,491.7 650.8,491.8 653.1,492.0 655.2,492.1 657.3,492.2 659.3,492.4 661.2,492.7 663.1,492.9 664.9,493.1 666.7,493.2 668.3,493.0 669.8,492.6 671.1,491.9 672.4,491.1 673.6,490.3 674.8,489.6 676.2,489.1 677.7,488.9 679.3,489.0 680.9,489.1 682.5,489.3 684.1,489.3 685.6,489.1 687.1,488.7 688.5,488.0 689.9,487.3 691.3,486.5 692.7,485.8 694.2,485.2 695.7,484.7 697.4,484.3 699.0,483.9 700.6,483.6 702.1,483.2 703.5,482.8 704.7,482.4 705.7,482.0 706.6,481.6 707.6,481.2 708.6,480.5 709.8,479.7 711.2,478.4 712.8,476.7 714.4,474.8 716.1,473.1 717.7,471.8 719.2,471.1 720.6,471.4 721.9,472.4 723.2,473.9 724.5,475.4 725.8,476.4 727.1,476.6 728.5,475.7 729.9,474.1 731.2,472.1 732.6,469.9 733.9,467.9 735.0,466.3 736.0,465.4 736.7,464.7 737.5,464.2 738.1,463.7 738.9,462.9 739.7,461.6 740.6,459.8 741.6,457.5 742.6,455.0 743.7,452.4 744.8,449.9 745.9,447.5 747.2,445.4 748.5,443.3 749.9,441.3 751.3,439.4 752.6,437.5 753.8,435.7 754.8,434.0 755.6,432.3 756.4,430.6 757.1,429.1 757.8,427.6 758.5,426.3 759.2,425.3 759.8,424.7 760.4,424.2 761.0,423.5 761.7,422.3 762.4,420.2 763.2,417.1 764.0,413.3 764.8,409.0 765.7,404.4 766.6,399.7 767.5,395.2 768.5,390.9 769.6,386.7 770.7,382.4 771.8,378.0 772.8,373.4 773.8,368.5 774.7,363.0 775.5,357.1 776.3,350.9 777.0,344.8 777.7,339.1 778.5,334.1 779.3,329.9 780.0,326.1 780.8,322.8 781.6,319.7 782.3,316.8 783.0,313.9 783.7,311.3 784.3,308.9 784.9,306.7 785.5,304.6 786.1,302.3 786.6,299.8 787.0,296.9 787.4,293.7 787.7,290.3 788.1,287.1 788.5,284.2 789.0,281.9 789.7,280.1 790.5,278.9 791.3,278.0 792.2,277.3 793.0,276.6 793.7,275.9 794.2,275.4 794.7,275.1 795.1,274.8 795.5,274.5 795.8,273.7 796.1,272.4 796.4,270.2 796.6,267.3 796.8,264.0 796.9,260.7 797.1,257.8 797.3,255.8 797.5,254.7 797.7,254.3 798.0,254.3 798.2,254.6 798.4,254.8 798.5,254.9" fill="none" stroke="#c44a4e" stroke-width="4" stroke-linejoin="round" stroke-linecap="butt"/>
<g stroke="#a6a6a6" stroke-width="1" fill="none">
<polyline points="766,95 798.1,96.4"/>
<polyline points="763.8,148.4 788.3,147.5"/>
</g>
<g font-size="13" fill="#404040" letter-spacing="0.35">
<rect x="463.2" y="119" width="23" height="13" fill="#fff"/>
<text x="463.7" y="130">481</text>
<text x="739.5" y="101.3">538</text>
<text x="738.2" y="153.1">471</text>
</g>
</svg>
</body></html>
